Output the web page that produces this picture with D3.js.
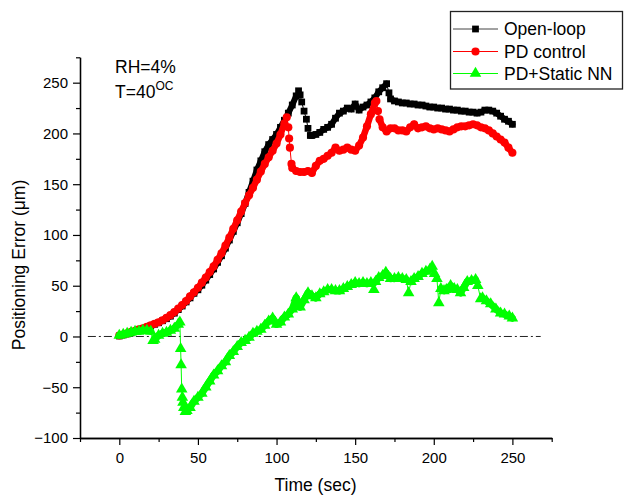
<!DOCTYPE html>
<html>
<head>
<meta charset="utf-8">
<script src="https://cdn.jsdelivr.net/npm/d3@7"></script>
<style>
  html, body { margin: 0; padding: 0; background: #fff; }
  svg { display: block; font-family: "Liberation Sans", Arial, sans-serif; }
</style>
</head>
<body>
<svg id="chart" width="624" height="495"></svg>
<script>
// ---- Measured positioning error (µm) vs time (sec) ----
const openLoopTime = [0,2.5,5,7.5,10,12.5,15,17.5,20,22.5,25,27.5,30,32.5,35,37.5,40,42.5,45,47.5,50,52.5,55,57.5,60,62.5,65,67.5,70,72.5,75,77.5,80,82.5,85,87.5,90,92.5,95,97.5,100,102.5,105,107.5,110,112.5,114,115,116,117.5,119,120,121.5,122.5,125,127.5,130,132.5,135,137.5,140,142.5,145,147.5,150,152.5,155,157.5,160,162.5,165,167.5,170,171.5,172.5,175,177.5,180,182.5,185,187.5,190,192.5,195,197.5,200,202.5,205,207.5,210,212.5,215,217.5,220,222.5,225,227.5,230,232.5,235,237.5,240,242.5,245,247.5,250];
const openLoopError = [0.5,1.5,2.5,3.5,5,6,7.5,9,10.5,12,13.5,15.5,17.5,20,23,26.5,30,34,38,42.5,46,50.5,55.5,61,66.5,73,79.5,87,95,103.5,112,121,131,142,153,164,173,182,189,194,199,206,213,220,228,237,242,238,231,222,214,205,198,198,199,201,204,206,209,215,220,222,225,224,229,223,226,228,231,235,241,245,249,240,234,232,231,230,230,229,229,228,228,227,226,226,225,225,224,224,223,223,222,222,221,221,220,221,223,223,222,220,217,214,212,209];

const pdTime = [0,2.5,5,7.5,10,12.5,15,17.5,20,22.5,25,27.5,30,32.5,35,37.5,40,42.5,45,47.5,50,52.5,55,57.5,60,62.5,65,67.5,70,72.5,75,77.5,80,82.5,85,87.5,90,92.5,95,97.5,100,102.5,105,106.5,107.5,108,108.5,109.5,110,112.5,115,117.5,120,122.5,125,127.5,130,132.5,135,137.5,140,142.5,145,147.5,150,152.5,155,157.5,160,162.5,163.5,164.5,165.5,167.5,170,172.5,175,177.5,180,182.5,185,187.5,190,192.5,195,197.5,200,202.5,205,207.5,210,212.5,215,217.5,220,222.5,225,227.5,230,232.5,235,237.5,240,242.5,245,247.5,250];
const pdError = [1,2,3,4.5,5.5,7,8,9.5,11,12.5,14,16,18.5,21,24,27.5,31,35,39.5,43.5,48,53,58,63.5,69,75.5,82,89.5,97.5,106,114.5,123,131.5,139,146.5,154.5,162.5,170,176.5,183,190,199,210,216,206,195,186,170,166,163,162,162,163,161,168,173,175,178,181,186,183,184,186,184,183,188,196,207,219,230,232,222,214,206,202,205,205,203,203,202,206,209,205,206,207,205,204,205,204,203,202,204,206,207,207,208,209,208,206,205,203,200,197,194,191,186,181];

const nnTime = [0,2.5,5,7.5,10,12.5,15,17.5,20,21.5,22.5,25,27.5,30,32.5,35,37.5,38.5,39,39.3,39.7,40.1,40.5,41,42,43,45,47.5,50,52.5,55,57.5,60,62.5,65,67.5,70,72.5,75,77.5,80,82.5,85,87.5,90,92.5,95,97.5,100,102.5,105,107.5,110,112.5,115,117.5,120,122.5,125,127.5,130,132.5,135,137.5,140,142.5,145,147.5,150,152.5,155,157.5,160,161.9,163,165,167.5,169.5,172.5,175,177.5,180,182.5,184,185.5,187.5,190,192.5,195,197.5,199,200.5,202,203.2,204.5,206.5,208,210.7,213,215,217,219,221.3,224,226.6,228,229.8,231,233.5,236.2,239.5,242.5,245,248,250];
const nnError = [1,2,3,4,5,5,6,6,5,-4,-3,1,3,4,6,8,12,14,-12,-28,-52,-60,-65,-70,-74,-73,-70,-64,-60,-56,-50,-44,-38,-34,-29,-25,-19,-15,-10,-6,-4,-1,3,5,7,11,15,18,12,14,19,22,27,38,29,36,43,40,38,42,44,46,46,45,45,47,49,51,53,52,53,52,53,46,54,58,60,63,57,57,58,57,56,43,54,57,59,62,64,66,69,62,57,33,47,45,46,50,47,46,43,48,54,55,56,50,37,38,35,32,27,23,22,20,18];

const xTicks = [0, 50, 100, 150, 200, 250];
const yTicks = [-100, -50, 0, 50, 100, 150, 200, 250];
const seriesNames = ["Open-loop", "PD control", "PD+Static NN"];

// ---- Layout ----
const svg = d3.select("#chart");
const plot = { left: 80, right: 551.7, top: 57.3, bottom: 438 };

const x = d3.scaleLinear().domain([-25, 275]).range([plot.left, plot.right]);
const y = d3.scaleLinear().domain([-100, 275]).range([plot.bottom, plot.top]);

const series = [
  { name: seriesNames[0], t: openLoopTime, v: openLoopError, color: "#000000", symbol: d3.symbolSquare, size: 46, trace: 6 },
  { name: seriesNames[1], t: pdTime, v: pdError, color: "#ff0000", symbol: d3.symbolCircle, size: 52, trace: 6.5 },
  { name: seriesNames[2], t: nnTime, v: nnError, color: "#00ff00", symbol: d3.symbolTriangle, size: 58, trace: 7 }
];
series.forEach(s => {
  const n = Math.min(s.t.length, s.v.length);
  s.points = d3.range(n).map(i => ({ t: s.t[i], v: s.v[i] }));
});

// zero reference line (dash-dot)
svg.append("line")
  .attr("x1", x(-20)).attr("x2", x(268))
  .attr("y1", y(0)).attr("y2", y(0))
  .attr("stroke", "#222").attr("stroke-width", 1)
  .attr("stroke-dasharray", "8,3,2,3");

// series: thin connecting line, a heavier trace along the regularly sampled
// stretches (densely packed markers), then the markers themselves
const line = d3.line().x(d => x(d.t)).y(d => y(d.v));
series.forEach(s => {
  const g = svg.append("g");
  g.append("path")
    .attr("d", line(s.points))
    .attr("fill", "none")
    .attr("stroke", s.color)
    .attr("stroke-width", 1);
  const segs = d3.pairs(s.points).filter(([a, b]) => b.t - a.t >= 2);
  g.selectAll("line.seg")
    .data(segs)
    .join("line")
    .attr("class", "seg")
    .attr("x1", d => x(d[0].t)).attr("y1", d => y(d[0].v))
    .attr("x2", d => x(d[1].t)).attr("y2", d => y(d[1].v))
    .attr("stroke", s.color)
    .attr("stroke-width", s.trace)
    .attr("stroke-linecap", "round");
  g.selectAll("path.m")
    .data(s.points)
    .join("path")
    .attr("class", "m")
    .attr("d", d3.symbol(s.symbol, s.size)())
    .attr("transform", d => `translate(${x(d.t)},${y(d.v)})`)
    .attr("fill", s.color);
});

// ---- Axes ----
const fontTick = 15;
const xMinor = d3.range(-25, 276, 50);
const yMinor = d3.range(-75, 276, 50);

svg.append("g").attr("transform", `translate(0,${plot.bottom})`)
  .call(d3.axisBottom(x).tickValues(xTicks).tickSize(7).tickSizeOuter(0).tickPadding(7));
svg.append("g").attr("transform", `translate(0,${plot.bottom})`)
  .call(d3.axisBottom(x).tickValues(xMinor).tickSize(4).tickSizeOuter(0).tickFormat(""));

svg.append("g").attr("transform", `translate(${plot.left},0)`)
  .call(d3.axisLeft(y).tickValues(yTicks).tickSize(7).tickSizeOuter(0).tickPadding(5));
svg.append("g").attr("transform", `translate(${plot.left},0)`)
  .call(d3.axisLeft(y).tickValues(yMinor).tickSize(4).tickSizeOuter(0).tickFormat(""));

svg.selectAll(".domain").attr("stroke", "#000").attr("stroke-width", 1.3);
svg.selectAll(".tick line").attr("stroke", "#000").attr("stroke-width", 1.2);
svg.selectAll(".tick text")
  .attr("font-family", "'Liberation Sans', Arial, sans-serif")
  .attr("font-size", fontTick).attr("fill", "#000");

// axis titles
svg.append("text")
  .attr("x", 315.5).attr("y", 491)
  .attr("text-anchor", "middle")
  .attr("font-size", 17.5)
  .text("Time (sec)");

svg.append("text")
  .attr("transform", "translate(25,265) rotate(-90)")
  .attr("text-anchor", "middle")
  .attr("font-size", 17.5)
  .text("Positioning Error (μm)");

// condition annotation
svg.append("text").attr("x", 115).attr("y", 72.7).attr("font-size", 17.5).text("RH=4%");
const tLabel = svg.append("text").attr("x", 115).attr("y", 97.7).attr("font-size", 17.5);
tLabel.append("tspan").text("T=40");
tLabel.append("tspan").attr("dy", -8).attr("font-size", 12).text("OC");

// ---- Legend ----
const legend = svg.append("g");
legend.append("rect")
  .attr("x", 450.5).attr("y", 11.5).attr("width", 172).attr("height", 77.5)
  .attr("fill", "#fff").attr("stroke", "#222").attr("stroke-width", 1.3);
const rowY = [29, 51.5, 73.5];
series.forEach((s, i) => {
  const row = legend.append("g").attr("transform", `translate(0,${rowY[i]})`);
  row.append("line").attr("x1", 453).attr("x2", 498).attr("y1", 0).attr("y2", 0)
    .attr("stroke", i === 0 ? "#444" : s.color).attr("stroke-width", 1);
  row.append("path").attr("d", d3.symbol(s.symbol, s.size)())
    .attr("transform", "translate(475.5,0)").attr("fill", s.color);
  row.append("text").attr("x", 504).attr("y", 6.2).attr("font-size", 17.5).text(s.name);
});
</script>
</body>
</html>
